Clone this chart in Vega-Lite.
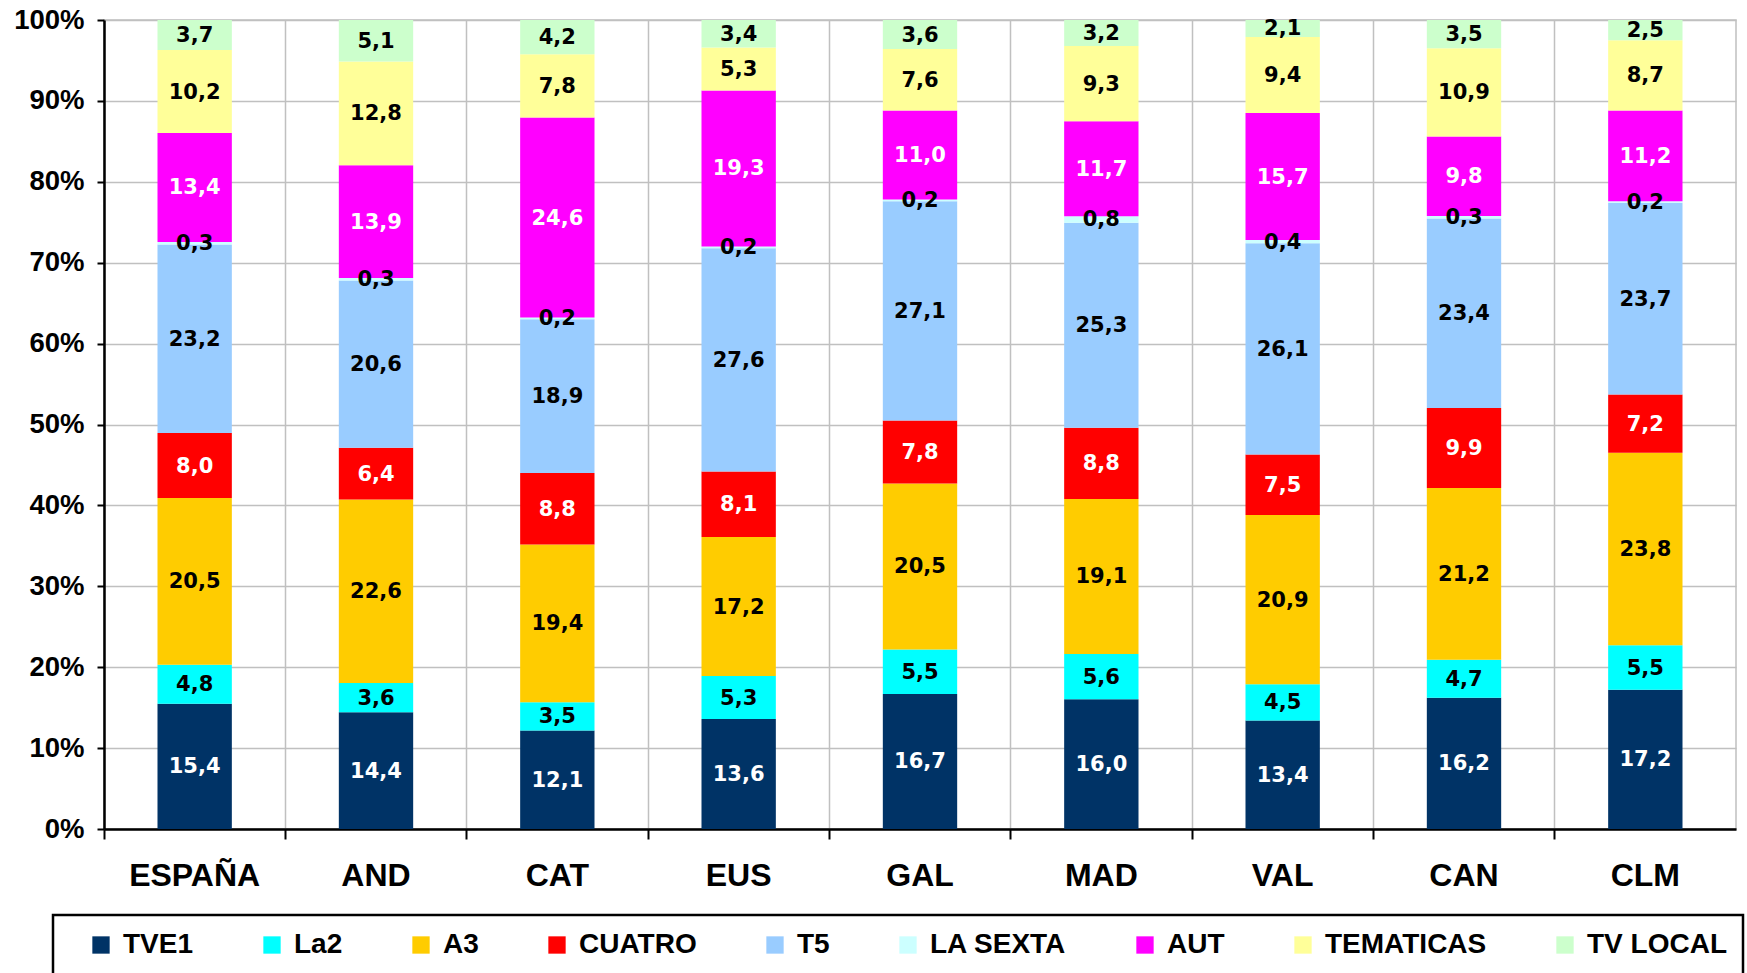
{
  "$schema": "https://vega.github.io/schema/vega-lite/v6.json",
  "width": 1632,
  "height": 809,
  "autosize": {"type": "none"},
  "padding": {"left": 104, "top": 20, "right": 11, "bottom": 144},
  "background": "white",
  "config": {
    "locale": {"number": {"decimal": ",", "thousands": ".", "grouping": [3], "currency": ["", " €"]}},
    "view": {"stroke": "#c0c0c0", "strokeWidth": 1.5}
  },
  "data": {
    "values": [
      {"region": "ESPAÑA", "serie": "TVE1", "n": 1, "v": 15.4},
      {"region": "ESPAÑA", "serie": "La2", "n": 2, "v": 4.8},
      {"region": "ESPAÑA", "serie": "A3", "n": 3, "v": 20.5},
      {"region": "ESPAÑA", "serie": "CUATRO", "n": 4, "v": 8.0},
      {"region": "ESPAÑA", "serie": "T5", "n": 5, "v": 23.2},
      {"region": "ESPAÑA", "serie": "LA SEXTA", "n": 6, "v": 0.3},
      {"region": "ESPAÑA", "serie": "AUT", "n": 7, "v": 13.4},
      {"region": "ESPAÑA", "serie": "TEMATICAS", "n": 8, "v": 10.2},
      {"region": "ESPAÑA", "serie": "TV LOCAL", "n": 9, "v": 3.7},
      {"region": "AND", "serie": "TVE1", "n": 1, "v": 14.4},
      {"region": "AND", "serie": "La2", "n": 2, "v": 3.6},
      {"region": "AND", "serie": "A3", "n": 3, "v": 22.6},
      {"region": "AND", "serie": "CUATRO", "n": 4, "v": 6.4},
      {"region": "AND", "serie": "T5", "n": 5, "v": 20.6},
      {"region": "AND", "serie": "LA SEXTA", "n": 6, "v": 0.3},
      {"region": "AND", "serie": "AUT", "n": 7, "v": 13.9},
      {"region": "AND", "serie": "TEMATICAS", "n": 8, "v": 12.8},
      {"region": "AND", "serie": "TV LOCAL", "n": 9, "v": 5.1},
      {"region": "CAT", "serie": "TVE1", "n": 1, "v": 12.1},
      {"region": "CAT", "serie": "La2", "n": 2, "v": 3.5},
      {"region": "CAT", "serie": "A3", "n": 3, "v": 19.4},
      {"region": "CAT", "serie": "CUATRO", "n": 4, "v": 8.8},
      {"region": "CAT", "serie": "T5", "n": 5, "v": 18.9},
      {"region": "CAT", "serie": "LA SEXTA", "n": 6, "v": 0.2},
      {"region": "CAT", "serie": "AUT", "n": 7, "v": 24.6},
      {"region": "CAT", "serie": "TEMATICAS", "n": 8, "v": 7.8},
      {"region": "CAT", "serie": "TV LOCAL", "n": 9, "v": 4.2},
      {"region": "EUS", "serie": "TVE1", "n": 1, "v": 13.6},
      {"region": "EUS", "serie": "La2", "n": 2, "v": 5.3},
      {"region": "EUS", "serie": "A3", "n": 3, "v": 17.2},
      {"region": "EUS", "serie": "CUATRO", "n": 4, "v": 8.1},
      {"region": "EUS", "serie": "T5", "n": 5, "v": 27.6},
      {"region": "EUS", "serie": "LA SEXTA", "n": 6, "v": 0.2},
      {"region": "EUS", "serie": "AUT", "n": 7, "v": 19.3},
      {"region": "EUS", "serie": "TEMATICAS", "n": 8, "v": 5.3},
      {"region": "EUS", "serie": "TV LOCAL", "n": 9, "v": 3.4},
      {"region": "GAL", "serie": "TVE1", "n": 1, "v": 16.7},
      {"region": "GAL", "serie": "La2", "n": 2, "v": 5.5},
      {"region": "GAL", "serie": "A3", "n": 3, "v": 20.5},
      {"region": "GAL", "serie": "CUATRO", "n": 4, "v": 7.8},
      {"region": "GAL", "serie": "T5", "n": 5, "v": 27.1},
      {"region": "GAL", "serie": "LA SEXTA", "n": 6, "v": 0.2},
      {"region": "GAL", "serie": "AUT", "n": 7, "v": 11.0},
      {"region": "GAL", "serie": "TEMATICAS", "n": 8, "v": 7.6},
      {"region": "GAL", "serie": "TV LOCAL", "n": 9, "v": 3.6},
      {"region": "MAD", "serie": "TVE1", "n": 1, "v": 16.0},
      {"region": "MAD", "serie": "La2", "n": 2, "v": 5.6},
      {"region": "MAD", "serie": "A3", "n": 3, "v": 19.1},
      {"region": "MAD", "serie": "CUATRO", "n": 4, "v": 8.8},
      {"region": "MAD", "serie": "T5", "n": 5, "v": 25.3},
      {"region": "MAD", "serie": "LA SEXTA", "n": 6, "v": 0.8},
      {"region": "MAD", "serie": "AUT", "n": 7, "v": 11.7},
      {"region": "MAD", "serie": "TEMATICAS", "n": 8, "v": 9.3},
      {"region": "MAD", "serie": "TV LOCAL", "n": 9, "v": 3.2},
      {"region": "VAL", "serie": "TVE1", "n": 1, "v": 13.4},
      {"region": "VAL", "serie": "La2", "n": 2, "v": 4.5},
      {"region": "VAL", "serie": "A3", "n": 3, "v": 20.9},
      {"region": "VAL", "serie": "CUATRO", "n": 4, "v": 7.5},
      {"region": "VAL", "serie": "T5", "n": 5, "v": 26.1},
      {"region": "VAL", "serie": "LA SEXTA", "n": 6, "v": 0.4},
      {"region": "VAL", "serie": "AUT", "n": 7, "v": 15.7},
      {"region": "VAL", "serie": "TEMATICAS", "n": 8, "v": 9.4},
      {"region": "VAL", "serie": "TV LOCAL", "n": 9, "v": 2.1},
      {"region": "CAN", "serie": "TVE1", "n": 1, "v": 16.2},
      {"region": "CAN", "serie": "La2", "n": 2, "v": 4.7},
      {"region": "CAN", "serie": "A3", "n": 3, "v": 21.2},
      {"region": "CAN", "serie": "CUATRO", "n": 4, "v": 9.9},
      {"region": "CAN", "serie": "T5", "n": 5, "v": 23.4},
      {"region": "CAN", "serie": "LA SEXTA", "n": 6, "v": 0.3},
      {"region": "CAN", "serie": "AUT", "n": 7, "v": 9.8},
      {"region": "CAN", "serie": "TEMATICAS", "n": 8, "v": 10.9},
      {"region": "CAN", "serie": "TV LOCAL", "n": 9, "v": 3.5},
      {"region": "CLM", "serie": "TVE1", "n": 1, "v": 17.2},
      {"region": "CLM", "serie": "La2", "n": 2, "v": 5.5},
      {"region": "CLM", "serie": "A3", "n": 3, "v": 23.8},
      {"region": "CLM", "serie": "CUATRO", "n": 4, "v": 7.2},
      {"region": "CLM", "serie": "T5", "n": 5, "v": 23.7},
      {"region": "CLM", "serie": "LA SEXTA", "n": 6, "v": 0.2},
      {"region": "CLM", "serie": "AUT", "n": 7, "v": 11.2},
      {"region": "CLM", "serie": "TEMATICAS", "n": 8, "v": 8.7},
      {"region": "CLM", "serie": "TV LOCAL", "n": 9, "v": 2.5}
    ]
  },
  "encoding": {
    "x": {
      "field": "region",
      "type": "nominal",
      "sort": null,
      "scale": {"paddingInner": 0, "paddingOuter": 0},
      "axis": {
        "title": null,
        "labelAngle": 0,
        "bandPosition": 0,
        "labelFont": "Liberation Sans",
        "labelFontWeight": "bold",
        "labelFontSize": 32,
        "labelColor": "black",
        "labelPadding": 21,
        "domainColor": "black",
        "domainWidth": 2.5,
        "tickColor": "black",
        "tickWidth": 2,
        "tickSize": 10,
        "grid": true,
        "gridColor": "#c0c0c0",
        "gridWidth": 1.5
      }
    },
    "order": {"field": "n", "type": "quantitative", "sort": "ascending"}
  },
  "layer": [
    {
      "mark": {"type": "bar", "width": {"band": 0.41}},
      "encoding": {
        "y": {
          "field": "v",
          "type": "quantitative",
          "stack": "normalize",
          "scale": {"domain": [0, 1]},
          "axis": {
            "title": null,
            "format": ".0%",
            "values": [0, 0.1, 0.2, 0.3, 0.4, 0.5, 0.6, 0.7, 0.8, 0.9, 1],
            "labelFont": "Liberation Sans",
            "labelFontWeight": "bold",
            "labelFontSize": 27.5,
            "labelColor": "black",
            "labelPadding": 13,
            "domainColor": "black",
            "domainWidth": 2.5,
            "tickColor": "black",
            "tickWidth": 2,
            "tickSize": 7,
            "grid": true,
            "gridColor": "#c0c0c0",
            "gridWidth": 1.5
          }
        },
        "color": {
          "field": "serie",
          "type": "nominal",
          "scale": {
            "domain": ["TVE1", "La2", "A3", "CUATRO", "T5", "LA SEXTA", "AUT", "TEMATICAS", "TV LOCAL"],
            "range": ["#003366", "#00FFFF", "#FFCC00", "#FF0000", "#99CCFF", "#CCFFFF", "#FF00FF", "#FFFF99", "#CCFFCC"]
          },
          "legend": {
            "orient": "none",
            "legendX": -51,
            "legendY": 895,
            "direction": "horizontal",
            "columns": 9,
            "title": "\u00a0",
            "titleOrient": "left",
            "titleFontSize": 28,
            "titlePadding": 18,
            "padding": 16,
            "strokeColor": "black",
            "symbolType": "square",
            "symbolSize": 300,
            "symbolStrokeWidth": 0,
            "symbolOpacity": 1,
            "labelFont": "Liberation Sans",
            "labelFontWeight": "bold",
            "labelFontSize": 28,
            "labelColor": "black",
            "labelOffset": 8,
            "labelLimit": 400,
            "labelExpr": "datum.label === 'TV LOCAL' ? datum.label + '\u00a0\u00a0\u00a0\u00a0\u00a0' : datum.label",
            "columnPadding": 64,
            "encode": {"legend": {"update": {"strokeWidth": {"value": 2.5}}}}
          }
        }
      }
    },
    {
      "mark": {"type": "text", "font": "DejaVu Sans", "fontWeight": "bold", "fontSize": 21, "baseline": "middle", "align": "center", "dy": 1},
      "encoding": {
        "y": {"field": "v", "type": "quantitative", "stack": "normalize", "bandPosition": 0.5},
        "text": {"field": "v", "type": "quantitative", "format": ".1f"},
        "color": {
          "condition": {"test": "datum.serie === 'TVE1' || datum.serie === 'CUATRO' || datum.serie === 'AUT'", "value": "white"},
          "value": "black"
        }
      }
    }
  ]
}
